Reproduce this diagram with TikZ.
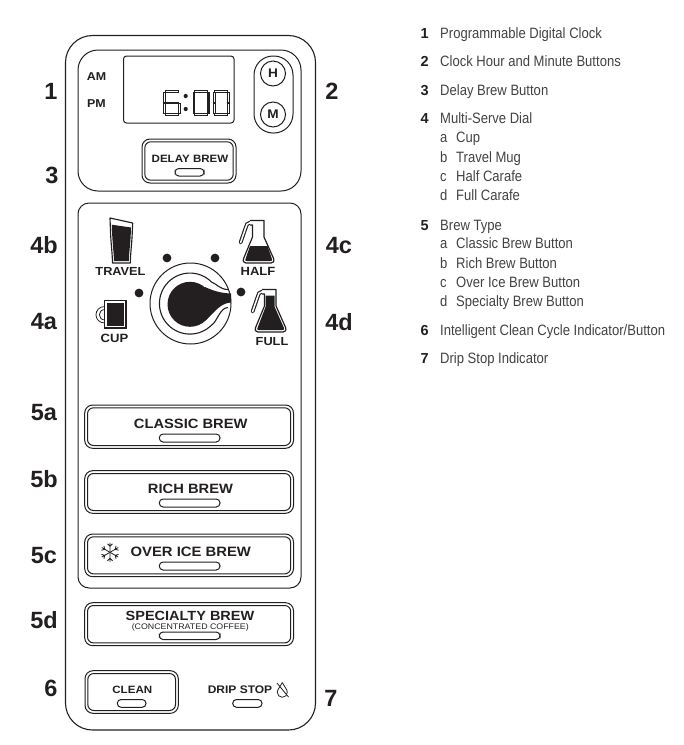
\documentclass[tikz,border=0pt]{standalone}
\usepackage{fontspec}
\newfontfamily\pf[FakeStretch=1.09]{Liberation Sans}
\newfontfamily\lf[FakeStretch=0.87]{Liberation Sans}
\newfontfamily\bigf{Liberation Sans}
\definecolor{ink}{HTML}{231F20}
\newcommand\fs[1]{\fontsize{#1}{#1}\selectfont}
\tikzset{
  ln/.style={draw=ink,line width=1pt},
  pt/.style={text=ink,inner sep=0pt,font=\pf\bfseries},
  callout/.style={text=ink,inner sep=0pt,font=\bigf\bfseries\fs{23.5}},
  lnum/.style={text=ink,inner sep=0pt,anchor=base west,font=\bigf\bfseries\fs{14.5}},
  ltext/.style={text=ink!85,inner sep=0pt,anchor=base west,font=\lf\fs{15}},
  segbox/.style={draw=ink,line width=1.05pt,fill=white},
}
\newcommand\pill[4]{\draw[ln,rounded corners=3.8pt] (#1,#3) rectangle (#2,#4);}
\newcommand\btn[4]{%
  \draw[ln,rounded corners=8pt] (#1,#3) rectangle (#2,#4);
  \draw[ln,rounded corners=6pt] (#1+2.8,#3+2.8) rectangle (#2-2.8,#4-2.8);}
% seven-segment pieces
\newcommand\hseg[3]{\draw[segbox] (#1,#3-0.9) rectangle (#2,#3+0.9);}
\newcommand\vseg[3]{\draw[segbox] (#1-0.9,#2) rectangle (#1+0.9,#3);}
\newcommand\digitzero[1]{%
  \hseg{#1+1.8}{#1+14.7}{91.6}\hseg{#1+1.8}{#1+14.7}{114.4}
  \vseg{#1+1.2}{92.5}{102.5}\vseg{#1+1.2}{103.5}{113.5}
  \vseg{#1+15.3}{92.5}{102.5}\vseg{#1+15.3}{103.5}{113.5}}
\newcommand\flaskshape{%
  \draw[ink,line width=3.8pt,line cap=round]
    (259,222.7) -- (250,222.7) .. controls (247,222.7) and (246.6,225) .. (245.6,228) -- (240.6,242.5);
  \draw[white,line width=1.5pt,line cap=round]
    (259,222.7) -- (250,222.7) .. controls (247,222.7) and (246.6,225) .. (245.6,228) -- (240.6,242.5);
  \draw[ln,line width=1.2pt,line join=round,fill=white]
    (250,220.5) -- (264,220.5) -- (264,237) -- (273.6,258.5)
    .. controls (274.6,261.5) and (273,263) .. (271,263) -- (246,263)
    .. controls (244,263) and (242.6,261.5) .. (243.6,258.5) -- (252.5,237) -- (252.5,225) -- (250,225);}
\begin{document}
\begin{tikzpicture}[x=1pt,y=1pt,yscale=-1]
\useasboundingbox (0,0) rectangle (684,745);
% housing and panels
\draw[ln,line width=1.1pt,rounded corners=27pt] (65.5,35.5) rectangle (315.5,730);
\draw[ln,rounded corners=20pt] (78,50) rectangle (301,191);
\draw[ln,rounded corners=11pt] (78,203) rectangle (301,588);
% clock
\draw[ln,rounded corners=3pt] (123.5,56) rectangle (234,123);
\node[pt,font=\pf\bfseries\fs{11.4}] (am) at (96.5,77) {AM};
\node[pt,font=\pf\bfseries\fs{11.4}] (pmx) at (96.5,103.5) {PM};
% digit 6
\hseg{165.8}{178.7}{91.6}\hseg{165.8}{178.7}{103}\hseg{165.8}{178.7}{114.4}
\vseg{164.7}{92.5}{102.5}\vseg{164.7}{103.5}{113.5}\vseg{179.3}{103.5}{113.5}
\fill[ink] (185.7,96) circle[radius=2.1pt] (185.7,109) circle[radius=2.1pt];
\digitzero{192.8}
\digitzero{213}
\draw[ln,rounded corners=19pt] (254,56) rectangle (293,133);
\node[pt,ln,circle,minimum size=25pt,font=\pf\bfseries\fs{12.5}] (hbtn) at (273,73.5) {H};
\node[pt,ln,circle,minimum size=25pt,font=\pf\bfseries\fs{12.5}] (mbtn) at (273,114.5) {M};
\btn{142}{236}{139}{183}
\node[pt,font=\pf\bfseries\fs{10.6}] (delay) at (190,159) {DELAY BREW};
\pill{175}{204}{168.5}{176}
% dial
\foreach \a/\b in {139/293,167/258,215/258,241/292}
  \fill[ink] (\a,\b) circle[radius=4.4pt];
\draw[ln] (190.5,303.5) circle[radius=40.5pt];
\draw[ln,line width=1.1pt] (228,289.5) .. controls (220,289.5) and (217,284) .. (211.5,282)
  arc[start angle=-45,end angle=-315,radius=30.5pt]
  .. controls (217,322) and (220,307.5) .. (228,307.5);
\fill[ink] (190,304.3) circle[radius=22.5pt];
\fill[ink] (205,287) .. controls (214,291) and (220,293) .. (231,293.5)
  -- (231,302.5) .. controls (220,303) and (214,313) .. (206,320) -- cycle;
% travel
\draw[ln,line width=1.15pt,line join=round,fill=white]
  (110,218) -- (132.7,223) -- (132.3,231) .. controls (132,243) and (130.5,252) .. (130.3,263)
  -- (112.5,263) .. controls (112.3,252) and (110.8,243) .. (110.5,231) -- cycle;
\fill[ink] (111.8,224.7) -- (131,227.5) .. controls (130.7,243) and (129,252) .. (128.8,261)
  -- (114,261) .. controls (113.8,252) and (112.2,243) .. cycle;
\node[pt,font=\pf\bfseries\fs{11.7}] (travel) at (120.5,271) {TRAVEL};
% half
\flaskshape
\fill[ink] (250,246) -- (267.5,246) -- (272,259) .. controls (272.5,260.5) and (271.5,261) .. (270.5,261)
  -- (246.5,261) .. controls (245.5,261) and (245,260.5) .. (245.5,259) -- cycle;
\node[pt,font=\pf\bfseries\fs{11.9}] (half) at (258,271) {HALF};
% full
\begin{scope}[shift={(12,69)}]
\flaskshape
\fill[ink] (253.7,226.5) -- (262.5,226.5) -- (262.5,237.5) -- (272,259) .. controls (272.5,260.5) and (271.5,261) .. (270.5,261)
  -- (246.5,261) .. controls (245.5,261) and (245,260.5) .. (245.5,259) -- (253.7,237.5) -- cycle;
\end{scope}
\node[pt,font=\pf\bfseries\fs{11.7}] (full) at (272,341.7) {FULL};
% cup
\draw[ln,line width=0.8pt] (105,306.5) .. controls (93,306.5) and (93,323) .. (105,323);
\draw[ln,line width=0.8pt] (105,309.5) .. controls (97.5,309.5) and (97.5,320) .. (105,320);
\draw[ln,line width=1.15pt,fill=white] (104.5,300.5) rectangle (126,328);
\fill[ink] (106.5,302.5) rectangle (124,326);
\node[pt,font=\pf\bfseries\fs{12}] (cup) at (114.5,338) {CUP};
% brew buttons
\btn{84.7}{293.5}{405}{448.3}
\node[pt,font=\pf\bfseries\fs{13.5}] (classic) at (190.7,423.5) {CLASSIC BREW};
\pill{159.3}{220}{434}{442}
\btn{84.7}{293.5}{470.7}{513.3}
\node[pt,font=\pf\bfseries\fs{13.5}] (rich) at (190.5,488.5) {RICH BREW};
\pill{159.3}{220}{499}{507}
\btn{84.7}{293.5}{534}{576.7}
\node[pt,font=\pf\bfseries\fs{13.6}] (overice) at (190.8,551.7) {OVER ICE BREW};
\pill{159.3}{220}{562}{570}
% snowflake
\begin{scope}[shift={(110,552.3)}]
\foreach \r in {0,60,...,300}{
  \draw[draw=ink,line width=0.8pt,rotate=\r] (0,0) -- (0,-9.5) (0,-6) -- (-2.5,-8.5) (0,-6) -- (2.5,-8.5);
}
\end{scope}
\btn{84.7}{293.5}{602.7}{645.7}
\node[pt,font=\pf\bfseries\fs{13.3}] (special) at (190,616) {SPECIALTY BREW};
\node[pt,font=\pf\fs{8.1}] (conc) at (190.3,627.5) {(CONCENTRATED COFFEE)};
\pill{159.3}{220}{632}{639.5}
\btn{85}{178.3}{670.7}{713.3}
\node[pt,font=\pf\bfseries\fs{10.6}] (clean) at (132.3,689.5) {CLEAN};
\pill{117.3}{146}{699.5}{707.3}
\node[pt,font=\pf\bfseries\fs{11}] (drip) at (240,689.5) {DRIP STOP};
\pill{232.7}{262}{699.5}{707.3}
\draw[draw=ink,line width=0.8pt] (282.3,682.5) .. controls (280,687) and (277.3,689.5) .. (277.3,692.3)
  arc[start angle=180,end angle=0,radius=5pt]
  .. controls (287.3,689.5) and (284.6,687) .. (282.3,682.5);
\draw[draw=ink,line width=0.8pt] (277,683) -- (288.5,697);
% callouts
\foreach \n/\a/\b/\t in {c1/51/91/1,c3/52/175/3,c4b/44/245/4b,c4a/44/322/4a,c5a/44/413/5a,c5b/44/479/5b,c5c/44/556/5c,c5d/44/620/5d,c6/51/688/6,c2/332/91/2,c4c/339/246/4c,c4d/339/322/4d,c7/331/698/7}
  \node[callout] (\n) at (\a,\b) {\t};
% list
\foreach \n/\b/\t in {l1/38.5/1,l2/66/2,l3/95/3,l4/123.2/4,l5/230/5,l6/335.7/6,l7/363.2/7}
  \node[lnum] (\n) at (420.5,\b) {\t};
\foreach \n/\b/\t in {t1/38.5/{Programmable Digital Clock},t2/66/{Clock Hour and Minute Buttons},t3/95/{Delay Brew Button},t4/123.2/{Multi-Serve Dial},t5/230/{Brew Type},t6/335.7/{Intelligent Clean Cycle Indicator/Button},t7/363.2/{Drip Stop Indicator}}
  \node[ltext] (\n) at (440,\b) {\t};
\foreach \n/\b/\k/\t in {u1/142.7/a/Cup,u2/162.7/b/Travel Mug,u3/181.3/c/Half Carafe,u4/200.3/d/Full Carafe,v1/248.3/a/Classic Brew Button,v2/268.3/b/Rich Brew Button,v3/287.3/c/Over Ice Brew Button,v4/306.7/d/Specialty Brew Button}{
  \node[ltext] (\n k) at (440,\b) {\k};
  \node[ltext] (\n) at (456,\b) {\t};
}
\end{tikzpicture}
\end{document}
